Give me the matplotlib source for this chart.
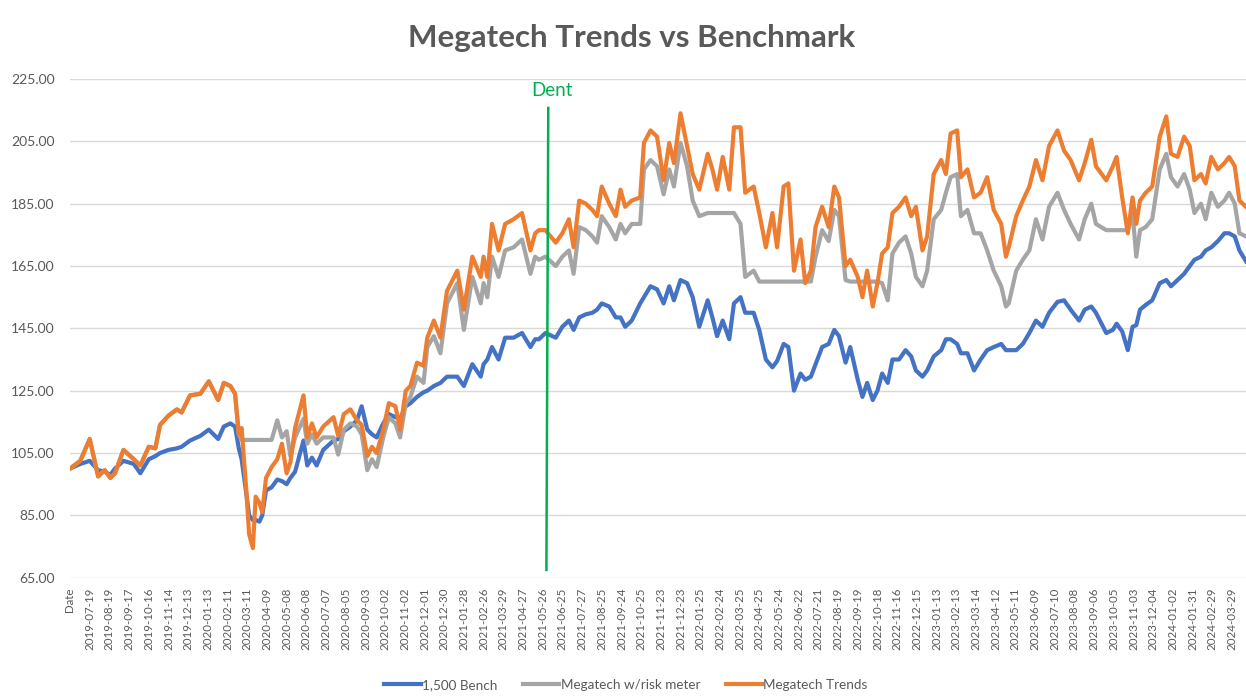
import numpy as np
import matplotlib
matplotlib.use("Agg")
import matplotlib.pyplot as plt
from matplotlib.ticker import FormatStrFormatter

# 1. Data (x = trading-day number from the first row)
day_idx = [
    0, 11, 21, 30, 37, 43, 48, 57, 68, 75, 84, 91, 96, 105, 114, 119, 128, 139,
    148, 158, 164, 171, 176, 180, 183, 188, 191, 195, 198, 202, 205, 209, 215,
    221, 226, 231,
    235, 240, 249, 253, 258, 263, 270, 281, 286, 292, 299, 306, 311, 317, 322,
    327, 334, 340, 347, 352, 358, 363, 370, 377, 381, 388, 395, 402, 413, 420,
    429, 438, 441, 445, 450, 457, 464, 473, 482, 491, 496,
    500, 507, 518, 525, 532, 537, 543, 550, 557, 562, 567, 575, 582, 587, 592,
    599, 608, 612, 619, 626, 633, 639, 644, 651, 658, 664, 671, 680, 685, 690,
    696, 703, 708, 715, 720, 729, 735, 742, 749,
    754, 761, 766, 772, 779, 784, 790, 795, 802, 809, 815, 820, 827, 832, 840,
    845, 850, 856, 861, 866, 872, 877, 884, 891, 897, 902, 909, 914, 921, 929,
    934, 939, 946, 950, 957, 964, 971, 978, 985, 993, 998,
    1001, 1009, 1016, 1023, 1030, 1037, 1044, 1053, 1060, 1067, 1076, 1082,
    1089, 1094, 1105, 1112, 1116, 1122, 1128, 1133, 1137, 1141, 1147, 1154,
    1162, 1169, 1174, 1181, 1188, 1194, 1199, 1206, 1211, 1217, 1224, 1231,
    1236, 1242, 1247, 1254,
]

bench = [
    100, 101.5, 102.5, 99.5, 99, 98, 100, 102.5, 101.5, 98.5, 103, 104, 105,
    106, 106.5, 107, 109, 110.5, 112.5, 109.5, 113.5, 114.5, 113.5, 106.5, 103,
    92, 85, 83.5, 83.5, 83, 85, 93, 94, 96.5, 96, 95,
    97, 99, 109, 101, 103.5, 101, 106, 109, 109.5, 112, 113.5, 115.5, 120,
    112.5, 111, 110, 114.5, 117.5, 116.5, 116, 120, 121, 123, 124.5, 125,
    126.5, 127.5, 129.5, 129.5, 126.5, 133.5, 129.5, 133.5, 135, 139, 135, 142,
    142, 143.5, 139, 141.5,
    141.5, 143.5, 142, 145.5, 147.5, 144.5, 148.5, 149.5, 150, 151, 153, 152,
    148.5, 148.5, 145.5, 147.5, 153, 155, 158.5, 157.5, 153, 158.5, 154, 160.5,
    159.5, 155, 145.5, 154, 148.5, 142.5, 147.5, 141.5, 153, 155, 150, 150,
    144.5, 135, 132.5,
    134.5, 140, 139, 125, 130.5, 128.5, 129.5, 133.5, 139, 140, 144.5, 142.5,
    134, 139, 128.5, 123, 127.5, 122, 125, 130.5, 127.5, 135, 135, 138, 136,
    131.5, 129.5, 131.5, 136, 138, 141.5, 141.5, 140, 137, 137, 131.5, 135,
    138, 139, 140, 138,
    138, 138, 140, 143.5, 147.5, 145.5, 150, 153.5, 154, 151, 147.5, 151, 152,
    150, 143.5, 144.5, 146.5, 144, 138, 145.5, 146, 151, 152.5, 154, 159.5,
    160.5, 158.5, 160.5, 162.5, 165, 167, 168, 170, 171, 173, 175.5, 175.5,
    174.5, 170, 166.5,
]

risk_meter = [
    100, 102.5, 109.5, 97.5, 99.5, 97, 98.5, 106, 103, 101, 107, 106.5, 114,
    117, 119, 118, 123.5, 124, 128, 122, 127.5, 126.5, 124, 111, 109.2, 109.2,
    109.2, 109.2, 109.2, 109.2, 109.2, 109.2, 109.2, 115.5, 110, 112,
    104, 110, 116, 108, 111, 108, 110, 110, 104.5, 112.5, 114.5, 113.5, 111,
    99.5, 103, 100.5, 110, 116.5, 114.5, 110, 121, 123, 129.5, 127.5, 139,
    142.5, 137, 153, 159.5, 144.5, 161.5, 153, 159.5, 155, 168, 161.5, 170,
    171, 173.5, 162.5, 168,
    167, 168, 165, 168, 170, 162.5, 177.5, 176.5, 174.5, 172.5, 181, 177.5,
    173.5, 178.5, 175.5, 178.5, 178.5, 196, 199, 197, 188, 196, 190.5, 204.5,
    197, 186, 181, 182, 182, 182, 182, 182, 182, 178.5, 161.5, 163.5, 160,
    160, 160,
    160, 160, 160, 160, 160, 160, 160, 168, 176.5, 173, 183, 181, 160.5, 160,
    160, 160, 160, 160, 160, 159.5, 154, 169, 172.5, 174.5, 169, 161.5, 158.5,
    163.5, 180, 183, 188.5, 193.5, 194.5, 181, 183, 175.5, 175.5, 170, 163.5,
    158.5, 152,
    153, 163.5, 167, 170, 180, 173.5, 184, 188.5, 183, 178.5, 173.5, 180, 185,
    178.5, 176.5, 176.5, 176.5, 176.5, 176.5, 182, 168, 176.5, 177.5, 180, 196,
    201, 193.5, 190.5, 194.5, 189.5, 182, 185, 180, 188.5, 184, 186, 188.5,
    185, 175.5, 174.5,
]

trends = [
    100, 102.5, 109.5, 97.5, 99.5, 97, 98.5, 106, 103, 101, 107, 106.5, 114,
    117, 119, 118, 123.5, 124, 128, 122, 127.5, 126.5, 124, 111, 113, 93, 79,
    74.5, 91, 89, 86, 97, 100.5, 103, 108, 98.5,
    102, 113, 123.5, 110, 114.5, 110, 113.5, 116.5, 110.5, 117.5, 119, 115.5,
    114, 104, 107, 105, 112.5, 121, 120, 112.5, 125, 126.5, 134, 133, 142,
    147.5, 142, 157, 163.5, 151, 168, 161.5, 168, 161.5, 178.5, 170, 178.5,
    180, 182, 170, 175.5,
    176.5, 176.5, 172.5, 175.5, 180, 171, 186, 185, 183, 181, 190.5, 185, 181,
    189.5, 184, 186, 187, 204.5, 208.5, 206.5, 192.5, 204.5, 198, 214, 203.5,
    194.5, 189.5, 201, 196, 189.5, 200, 189.5, 209.5, 209.5, 188.5, 190.5, 182,
    171, 182,
    171, 190.5, 191.5, 163.5, 173.5, 159.5, 163.5, 177.5, 184, 177.5, 190.5,
    187, 165, 167, 161.5, 155, 163.5, 152, 159.5, 169, 171, 182, 184, 187, 181,
    184, 170, 174.5, 194.5, 199, 194.5, 207.5, 208.5, 193.5, 196, 187, 188.5,
    193.5, 183, 178.5, 168,
    171, 181, 186, 190.5, 199, 192.5, 203.5, 208.5, 202, 199, 192.5, 198,
    205.5, 197, 192.5, 197, 200, 187, 175.5, 187, 178.5, 186, 188.5, 190.5,
    206.5, 213, 201, 200, 206.5, 203.5, 192.5, 194.5, 191.5, 200, 196, 198,
    200, 197, 186, 184,
]

# x labels, one every 21 rows (first one is the header cell)
tick_labels = [
    "Date",
    "2019-07-19", "2019-08-19", "2019-09-17", "2019-10-16", "2019-11-14",
    "2019-12-13", "2020-01-13", "2020-02-11", "2020-03-11", "2020-04-09",
    "2020-05-08", "2020-06-08", "2020-07-07", "2020-08-05", "2020-09-03",
    "2020-10-02", "2020-11-02", "2020-12-01", "2020-12-30", "2021-01-28",
    "2021-02-26", "2021-03-29", "2021-04-27", "2021-05-26", "2021-06-25",
    "2021-07-27", "2021-08-25", "2021-09-24", "2021-10-25", "2021-11-23",
    "2021-12-23", "2022-01-25", "2022-02-24", "2022-03-25", "2022-04-25",
    "2022-05-24", "2022-06-22", "2022-07-21", "2022-08-19", "2022-09-19",
    "2022-10-18", "2022-11-16", "2022-12-15", "2023-01-13", "2023-02-13",
    "2023-03-14", "2023-04-12", "2023-05-11", "2023-06-09", "2023-07-10",
    "2023-08-08", "2023-09-06", "2023-10-05", "2023-11-03", "2023-12-04",
    "2024-01-02", "2024-01-31", "2024-02-29", "2024-03-29",
]
LABEL_STEP = 21
LAST_ROW = 1254

# "Dent" marker line (row, value at top / bottom)
dent_x = [510, 508]
dent_y = [215.7, 67.5]

# 2. Styling
plt.rcParams['font.family'] = ['Lato', 'DejaVu Sans']
TEXT_GRAY = "#595959"

fig = plt.figure(figsize=(12.46, 6.96), dpi=100)
W, H = 1246, 696
ax = fig.add_axes([70 / W, 1 - 577.7 / H, 1176 / W, (577.7 - 79) / H])

ax.plot(day_idx, bench, color="#4472C4", lw=3, label="1,500 Bench")
ax.plot(day_idx, risk_meter, color="#A5A5A5", lw=3, label="Megatech w/risk meter")
ax.plot(day_idx, trends, color="#ED7D31", lw=3, label="Megatech Trends")

ax.plot(dent_x, dent_y, color="#00B050", lw=1.8)
ax.text(514, 221.2, "Dent", color="#00B050", ha="center", va="center", fontsize=13.5)

ax.set_xlim(0, LAST_ROW)
ax.set_ylim(65, 225)
ax.set_yticks(np.arange(65, 226, 20))
ax.yaxis.set_major_formatter(FormatStrFormatter('%.2f'))
ax.set_xticks(np.arange(len(tick_labels)) * LABEL_STEP)
ax.set_xticklabels(tick_labels, rotation=90, va="top", ha="center", fontsize=8.3)

ax.grid(axis="y", color="#D9D9D9", lw=1)
ax.set_axisbelow(True)
for s in ax.spines.values():
    s.set_visible(False)
ax.tick_params(length=0, colors=TEXT_GRAY)
ax.tick_params(axis="y", labelsize=10, pad=11)
ax.tick_params(axis="x", pad=7)

fig.text(632 / W, 1 - 38 / H, "Megatech Trends vs Benchmark", ha="center", va="center",
         fontsize=22.5, fontweight="bold", color=TEXT_GRAY)

fig.legend(loc="center", bbox_to_anchor=(626 / W, 1 - 685 / H), ncol=3, frameon=False,
           fontsize=9.7, handlelength=2.7, handletextpad=0.1, columnspacing=1.9,
           labelcolor=TEXT_GRAY)

fig.savefig("out.png", dpi=100)
